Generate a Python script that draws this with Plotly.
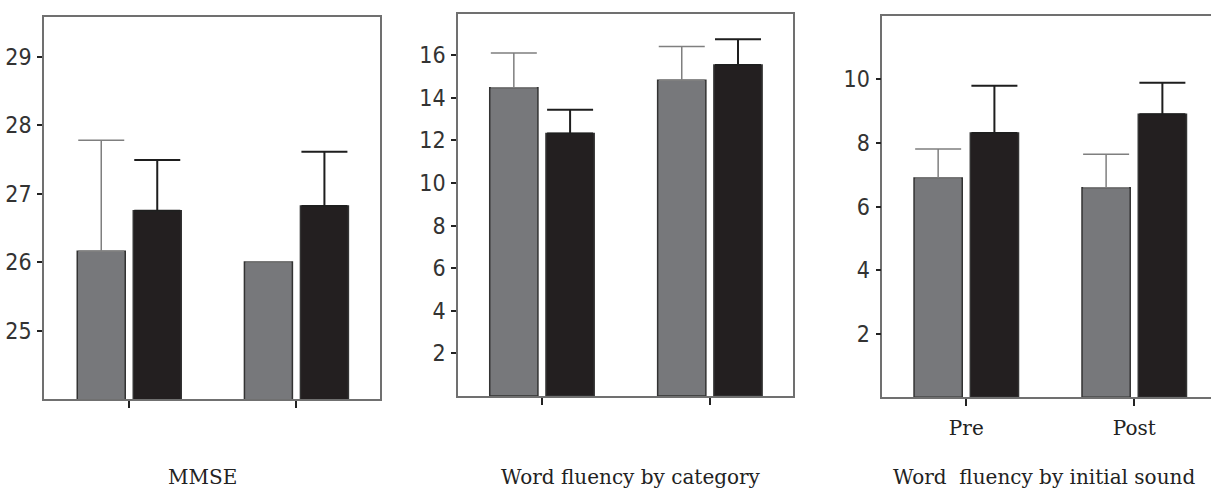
import plotly.graph_objects as go

categories = ["Pre", "Post"]

# MMSE
mmse_gray = [26.16, 26.00]
mmse_gray_err = [1.62, 0.0]
mmse_black = [26.75, 26.82]
mmse_black_err = [0.74, 0.79]

# Word fluency by category
cat_gray = [14.47, 14.82]
cat_gray_err = [1.63, 1.59]
cat_black = [12.32, 15.54]
cat_black_err = [1.11, 1.21]

# Word fluency by initial sound
ini_gray = [6.90, 6.59]
ini_gray_err = [0.91, 1.05]
ini_black = [8.31, 8.90]
ini_black_err = [1.49, 0.99]

titles = ["MMSE", "Word fluency by category", "Word\u00a0 fluency by initial sound"]

GRAY = "#77787b"
BLACK = "#231f20"
OUTLINE = "#333333"

panels = [
    (mmse_gray, mmse_gray_err, mmse_black, mmse_black_err),
    (cat_gray, cat_gray_err, cat_black, cat_black_err),
    (ini_gray, ini_gray_err, ini_black, ini_black_err),
]

fig = go.Figure()
for i, (g, ge, b, be) in enumerate(panels):
    xa = "x" if i == 0 else f"x{i+1}"
    ya = "y" if i == 0 else f"y{i+1}"
    fig.add_trace(go.Bar(
        x=categories, y=g, xaxis=xa, yaxis=ya, offsetgroup="g",
        marker=dict(color=GRAY, line=dict(color=OUTLINE, width=1.5)),
        error_y=dict(type="data", array=ge, arrayminus=[0] * len(ge), symmetric=False,
                     color="#7f7f7f", thickness=1.5, width=23),
        showlegend=False,
    ))
    fig.add_trace(go.Bar(
        x=categories, y=b, xaxis=xa, yaxis=ya, offsetgroup="b",
        marker=dict(color=BLACK, line=dict(color=OUTLINE, width=1.5)),
        error_y=dict(type="data", array=be, arrayminus=[0] * len(be), symmetric=False,
                     color="#1e1e1e", thickness=2, width=23),
        showlegend=False,
    ))

tickfont = dict(family="DejaVu Sans Condensed, Liberation Sans Narrow, Liberation Sans",
                size=23, color="#333333")
linecol = "#707070"

xdoms = [(44 / 1211, 380 / 1211), (458 / 1211, 793 / 1211), (882.3 / 1211, 1.0)]
ydoms = [(1 - 399 / 488, 1 - 17 / 488), (1 - 396 / 488, 1 - 14 / 488), (1 - 397.3 / 488, 1 - 15.7 / 488)]
yranges = [[24.0, 29.58], [0, 17.93], [0, 12.0]]
ytickvals = [[25, 26, 27, 28, 29], [2, 4, 6, 8, 10, 12, 14, 16], [2, 4, 6, 8, 10]]
xranges = [[-0.51, 1.5], [-0.5, 1.495], [-0.5, 1.457]]

layout = {}
for i in range(3):
    sfx = "" if i == 0 else str(i + 1)
    layout[f"xaxis{sfx}"] = dict(
        domain=list(xdoms[i]), anchor=f"y{sfx}", range=xranges[i], type="category",
        showline=True, linecolor=linecol, linewidth=1.5, mirror=True,
        ticks="outside", ticklen=7, tickwidth=2, tickcolor="#222222",
        showticklabels=(i == 2), showgrid=False, zeroline=False,
        tickfont=dict(family="DejaVu Serif", size=20, color="#222222"),
        ticklabelstandoff=5,
    )
    layout[f"yaxis{sfx}"] = dict(
        domain=list(ydoms[i]), anchor=f"x{sfx}", range=yranges[i],
        tickvals=ytickvals[i], showline=True, linecolor=linecol, linewidth=1.5,
        mirror=(i != 2), ticks="outside", ticklen=5, tickwidth=2, tickcolor="#222222",
        showgrid=False, zeroline=False, tickfont=tickfont, ticklabelstandoff=1,
    )

fig.update_layout(
    width=1211, height=488,
    margin=dict(l=0, r=0, t=0, b=0),
    paper_bgcolor="white", plot_bgcolor="white",
    barmode="group", bargap=0.33, bargroupgap=0.143,
    **layout,
)

title_x = [202, 631, 1044]
for tx, t in zip(title_x, titles):
    fig.add_annotation(text=t, xref="paper", yref="paper", x=tx / 1211, y=1 - 477 / 488,
                       xanchor="center", yanchor="middle", showarrow=False,
                       font=dict(family="DejaVu Serif", size=20, color="#222222"))

fig.write_html("out.html", config={"displayModeBar": False},
               post_script="document.body.style.margin='0';document.body.style.overflow='hidden';")
